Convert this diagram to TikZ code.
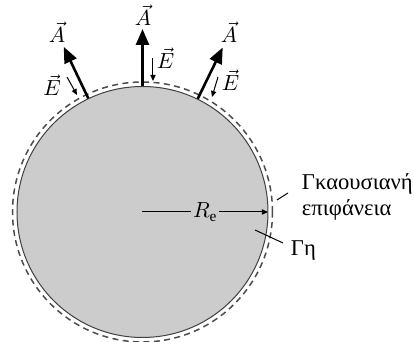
\documentclass[tikz,border=0pt]{standalone}
\usepackage{fontspec}
\setmainfont{Liberation Serif}
\usetikzlibrary{arrows.meta}
\begin{document}
\begin{tikzpicture}[x=0.5pt, y=0.5pt, font=\fontsize{11.3}{13}\selectfont, line width=0.5pt,
  bigarrow/.style={-{Triangle[length=8pt, width=6.5pt]}, line width=1.3pt},
  smallarrow/.style={-{Triangle[length=3pt, width=2.6pt]}, line width=0.5pt},
  vlabel/.style={inner sep=0pt, font=\fontsize{11}{13}\selectfont},
  pointer/.style={line width=0.5pt}]
  \useasboundingbox (-142.5,-130) rectangle (271.5,212);
  % earth and gaussian surface
  \draw[draw=black!75, fill=black!20] (0,0) circle (125.5);
  \draw[draw=black!70, line width=0.75pt, dash pattern=on 3pt off 2.2pt] (0,0) circle (130);
  \coordinate (centre) at (0,0);
  \coordinate (rim) at (0:125.5);
  % area vectors
  \coordinate (al) at (115.5:126);  \coordinate (alt) at (115.5:183);
  \coordinate (am) at (90:126);     \coordinate (amt) at (90:183);
  \coordinate (ar) at (64:126);     \coordinate (art) at (64:183);
  \draw[bigarrow] (al) -- (alt);
  \draw[bigarrow] (am) -- (amt);
  \draw[bigarrow] (ar) -- (art);
  \node[vlabel] (Al) at (-85.5,180) {$\vec{A}$};
  \node[vlabel] (Am) at (0.5,197) {$\vec{A}$};
  \node[vlabel] (Ar) at (86.5,180) {$\vec{A}$};
  % field vectors
  \coordinate (el) at (-75.5,135);  \coordinate (elt) at (-65.5,117);
  \coordinate (em) at (10.5,154);   \coordinate (emt) at (10.5,131);
  \coordinate (er) at (75.5,135);   \coordinate (ert) at (69.5,115);
  \draw[smallarrow] (el) -- (elt);
  \draw[smallarrow] (em) -- (emt);
  \draw[smallarrow] (er) -- (ert);
  \node[vlabel] (El) at (-90.5,127) {$\vec{E}$};
  \node[vlabel] (Em) at (23,154) {$\vec{E}$};
  \node[vlabel] (Er) at (88,132) {$\vec{E}$};
  % radius
  \draw[smallarrow] (centre) -- node[fill=black!20, inner sep=1pt, font=\fontsize{11}{13}\selectfont] (Re) {$R_\mathrm{e}$} (rim);
  % labels
  \node[anchor=west, align=left, inner sep=0pt] (gauss) at (159,15) {Γκαουσιανή\\επιφάνεια};
  \node[anchor=west, inner sep=0pt] (earth) at (148,-39) {Γη};
  \coordinate (gp) at (134.5,12);
  \coordinate (ep) at (112.5,-18);
  \draw[pointer] (gp) -- (145.5,19);
  \draw[pointer] (ep) -- (140.5,-31);
\end{tikzpicture}
\end{document}
